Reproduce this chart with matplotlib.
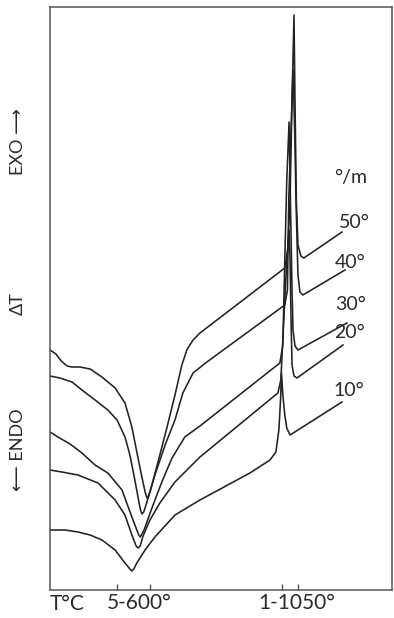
import matplotlib
matplotlib.use("Agg")
import matplotlib.pyplot as plt

# DTA curves, temperature (deg C) against Delta T (arbitrary units)
rates = ["50°", "40°", "30°", "20°", "10°"]

t_50 = [296, 314, 330, 348, 363, 387, 418, 454, 494, 524, 545, 560, 576, 586, 591, 597,
        606, 630, 652, 676, 697, 712, 731, 752, 1010, 1019, 1026, 1032, 1038, 1041, 1045,
        1050, 1059, 1068, 1184]
dt_50 = [240, 236, 229, 224, 223, 223, 221, 213, 202, 187, 163, 138, 112, 97, 92, 95,
         105, 135, 163, 195, 225, 240, 250, 257, 322, 340, 390, 490, 575, 490, 390,
         345, 334, 332, 358]

t_40 = [296, 326, 363, 393, 433, 472, 500, 524, 539, 554, 567, 572, 576, 581, 588, 615,
        646, 676, 700, 731, 773, 1010, 1018, 1022, 1029, 1035, 1040, 1044, 1050, 1056,
        1065, 1193]
dt_40 = [214, 212, 208, 200, 190, 180, 170, 153, 135, 110, 87, 79, 76, 78, 85, 115,
         145, 170, 197, 217, 228, 285, 300, 390, 460, 520, 460, 390, 315, 298,
         295, 320]

t_30 = [296, 320, 357, 393, 433, 472, 515, 545, 560, 566, 570, 574, 582, 606, 636, 667,
        706, 752, 995, 1004, 1010, 1016, 1023, 1026, 1032, 1035, 1041, 1050, 1199]
dt_30 = [158, 153, 146, 137, 125, 117, 100, 73, 60, 55, 53, 55, 60, 82, 108, 132,
         153, 164, 227, 245, 330, 410, 468, 410, 300, 260, 244, 240, 267]

t_20 = [296, 332, 381, 442, 494, 524, 545, 558, 564, 570, 579, 600, 630, 676, 752, 852,
        989, 998, 1007, 1016, 1023, 1026, 1029, 1032, 1038, 1047, 1187]
dt_20 = [120, 118, 115, 107, 90, 75, 55, 44, 42, 44, 54, 70, 87, 108, 133, 160,
         197, 210, 270, 330, 360, 330, 270, 225, 214, 212, 245]

t_10 = [296, 342, 381, 418, 454, 494, 524, 539, 545, 551, 560, 585, 615, 676, 752, 904,
        965, 983, 992, 997, 1000, 1004, 1010, 1016, 1026, 1184]
dt_10 = [60, 60, 58, 55, 50, 40, 27, 21, 19, 21, 27, 40, 53, 75, 90, 117,
         130, 138, 160, 190, 217, 195, 175, 162, 155, 188]

curves_t = [t_50, t_40, t_30, t_20, t_10]
curves_dt = [dt_50, dt_40, dt_30, dt_20, dt_10]

# label anchors (left edge, vertical centre) next to the ends of the curves
label_t = [1174, 1162, 1162, 1159, 1159]
label_dt = [368, 327, 285, 258, 200]

tick_t = [500, 600, 1000, 1050]

font = ["Lato", "DejaVu Sans"]
line_color = "#222222"
text_color = "#2a2a2a"

fig = plt.figure(figsize=(3.94, 6.18), dpi=100)
ax = fig.add_axes([50 / 394, 28 / 618, 342 / 394, 583 / 618])

for t, dt in zip(curves_t, curves_dt):
    ax.plot(t, dt, color=line_color, lw=1.15, solid_joinstyle="round")

for name, lt, ld in zip(rates, label_t, label_dt):
    ax.text(lt, ld, name, fontsize=14, family=font,
            va="center", ha="left", color=text_color)
ax.text(1159, 412, "°/m", fontsize=14, family=font,
        va="center", ha="left", color=text_color)

ax.set_xlim(296, 1336)
ax.set_ylim(0, 583)
ax.set_xticks(tick_t)
ax.set_xticklabels([])
ax.set_yticks([])
ax.tick_params(axis="x", direction="in", length=4, width=1, color="#555555")
for sp in ax.spines.values():
    sp.set_color("#555555")
    sp.set_linewidth(1.1)

# bottom labels
fig.text(50 / 394, 1 - 604 / 618, "T°C", fontsize=15, family=font,
         va="center", ha="left", color=text_color)
fig.text(139 / 394, 1 - 603 / 618, "5-600°", fontsize=15, family=font,
         va="center", ha="center", color=text_color)
fig.text(297 / 394, 1 - 603 / 618, "1-1050°", fontsize=15, family=font,
         va="center", ha="center", color=text_color)

# left side labels
fig.text(18 / 394, 1 - 142 / 618, "EXO ⟶", fontsize=13, family=font,
         rotation=90, va="center", ha="center", color=text_color)
fig.text(18 / 394, 1 - 304 / 618, "ΔT", fontsize=13, family=font,
         rotation=90, va="center", ha="center", color=text_color)
fig.text(18 / 394, 1 - 450 / 618, "⟵ ENDO", fontsize=13, family=font,
         rotation=90, va="center", ha="center", color=text_color)

fig.savefig("out.png", dpi=100)
